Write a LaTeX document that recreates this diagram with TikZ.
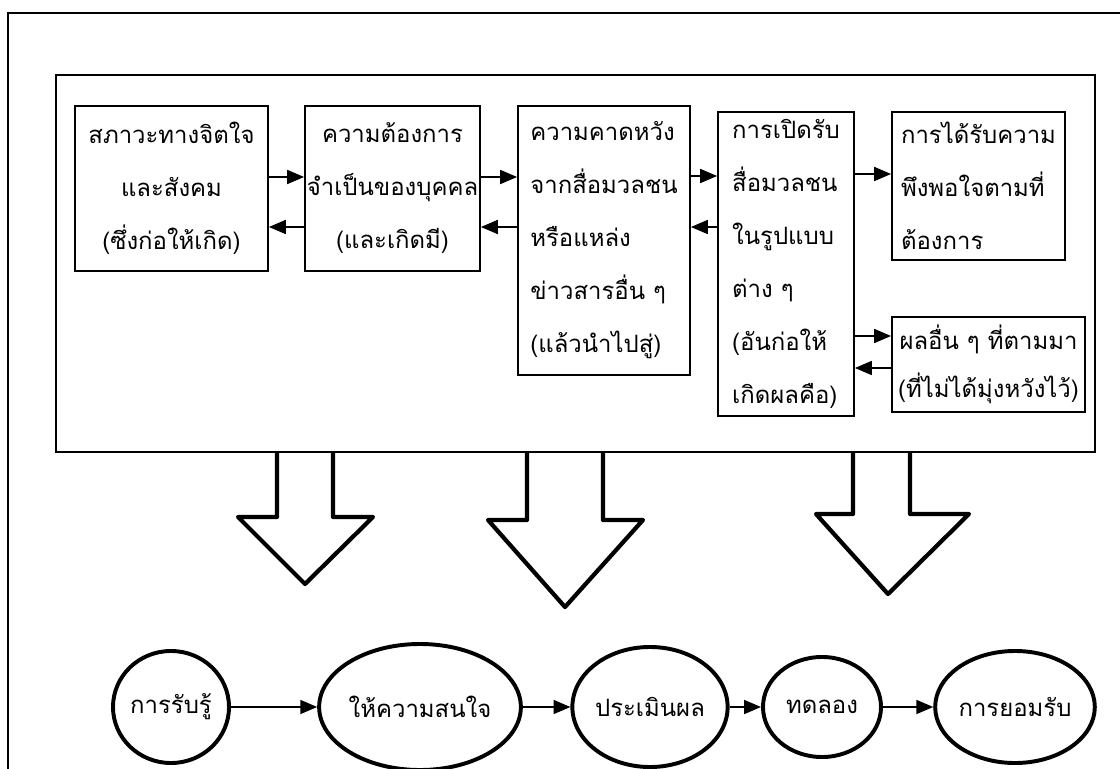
\documentclass[tikz,border=0pt]{standalone}
\usepackage{fontspec}
\newfontfamily\thaifont[Script=Thai]{Loma}
\usetikzlibrary{shapes.geometric, arrows.meta}

\begin{document}
\begin{tikzpicture}[x=0.025cm, y=-0.025cm,
	box/.style={draw, line width=1.3pt, inner sep=0pt, font=\thaifont\fontsize{17}{37.7}\selectfont},
	oval/.style={draw, ellipse, line width=2.8pt, inner sep=0pt, font=\thaifont\fontsize{17}{20}\selectfont},
	link/.style={line width=1pt, -{Triangle[length=12pt,width=10pt]}},
	fatarrow/.style={line width=3pt, line join=round}]
	\useasboundingbox (0,0) rectangle (1120,769);
	\clip (0,0) rectangle (1120,769);
	%frames
	\draw[line width=1.1pt] (8,13) rectangle (1140,790);
	\draw[line width=1.1pt] (56,75) rectangle (1095,452);
	%
	\node[box, minimum width=4.825cm, minimum height=4.125cm, align=center] (mind) at (171.5,188.5)
		{สภาวะทางจิตใจ\\และสังคม\\(ซึ่งก่อให้เกิด)};
	\node[box, minimum width=4.375cm, minimum height=4.125cm, align=center] (need) at (392.5,188.5)
		{ความต้องการ\\จำเป็นของบุคคล\\(และเกิดมี)};
	\node[box, minimum width=4.3cm, minimum height=6.725cm, align=left] (hope) at (604,240.5)
		{ความคาดหวัง\\จากสื่อมวลชน\\หรือแหล่ง\\ข่าวสารอื่น ๆ\\ (แล้วนำไปสู่)};
	\node[box, minimum width=3.4cm, minimum height=7.6cm, align=left] (expo) at (786,264)
		{การเปิดรับ\\สื่อมวลชน\\ในรูปแบบ\\ ต่าง ๆ\\(อันก่อให้\\เกิดผลคือ)};
	\node[box, minimum width=4.325cm, minimum height=3.7cm, align=left] (satis) at (978.5,186)
		{การได้รับความ\\พึงพอใจตามที่\\ต้องการ};
	\node[box, minimum width=4.825cm, minimum height=2.375cm, align=center,
		font=\thaifont\fontsize{17}{34}\selectfont] (other) at (988.5,364.5)
		{ผลอื่น ๆ ที่ตามมา\\(ที่ไม่ได้มุ่งหวังไว้)};
	%
	\node[oval, minimum width=2.9cm, minimum height=2.8cm] (aware) at (171,707) {การรับรู้};
	\node[oval, minimum width=4.9cm, minimum height=3.15cm] (interest) at (420,707) {ให้ความสนใจ};
	\node[oval, minimum width=3.7cm, minimum height=3cm] (evaluate) at (650,707) {ประเมินผล};
	\node[oval, minimum width=2.95cm, minimum height=2.5cm] (trial) at (822,707) {ทดลอง};
	\node[oval, minimum width=3.9cm, minimum height=2.8cm] (adopt) at (1015,707) {การยอมรับ};

	%box links
	\draw[link] (mind.east |- 0,177) -- (need.west |- 0,177);
	\draw[link] (need.west |- 0,227) -- (mind.east |- 0,227);
	\draw[link] (need.east |- 0,177) -- (hope.west |- 0,177);
	\draw[link] (hope.west |- 0,227) -- (need.east |- 0,227);
	\draw[link] (hope.east |- 0,176) -- (expo.west |- 0,176);
	\draw[link] (expo.west |- 0,227) -- (hope.east |- 0,227);
	\draw[link] (expo.east |- 0,174) -- (satis.west |- 0,174);
	\draw[link] (expo.east |- 0,336) -- (other.west |- 0,336);
	\draw[link] (other.west |- 0,368) -- (expo.east |- 0,368);

	%big arrows down
	\draw[fatarrow] (277,452) -- (277,517) -- (238,517) -- (305,584) -- (373,517) -- (333,517) -- (333,452);
	\draw[fatarrow] (527,452) -- (527,520) -- (488,520) -- (565,607) -- (643,520) -- (603,520) -- (603,452);
	\draw[fatarrow] (853,452) -- (853,514) -- (816,514) -- (888,594) -- (969,514) -- (910,514) -- (910,452);

	%oval links
	\draw[link] (aware) -- (interest);
	\draw[link] (interest) -- (evaluate);
	\draw[link] (evaluate) -- (trial);
	\draw[link] (trial) -- (adopt);
\end{tikzpicture}
\end{document}
